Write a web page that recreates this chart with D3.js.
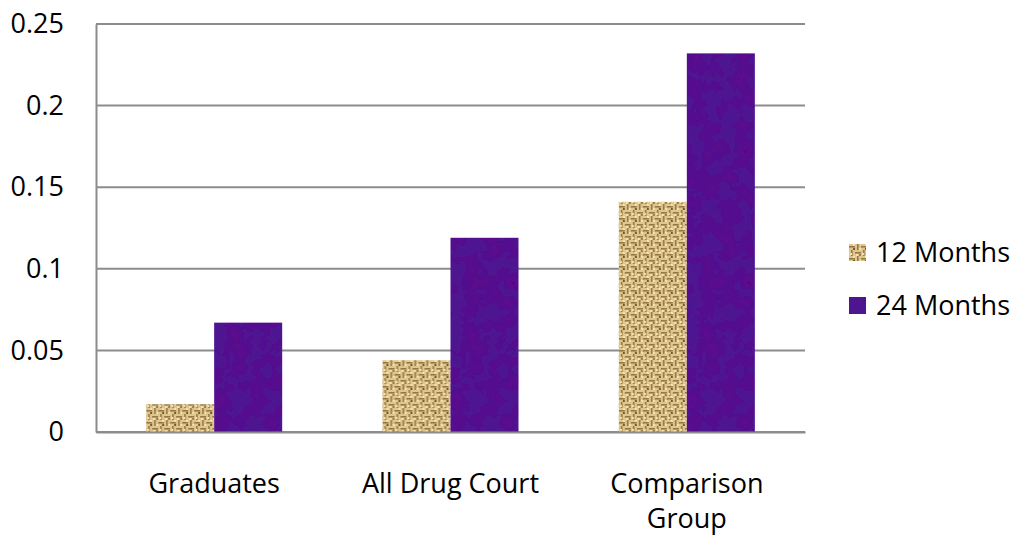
<!DOCTYPE html>
<html>
<head>
<meta charset="utf-8">
<script src="https://cdn.jsdelivr.net/npm/d3@7"></script>
<style>
  body { margin: 0; background: #fff; }
  svg { display: block; font-family: "Open Sans", sans-serif; }
</style>
</head>
<body>
<svg id="chart" width="1018" height="535"></svg>
<script>
// chart data
const categories = ["Graduates", "All Drug Court", "Comparison Group"];
const seriesNames = ["12 Months", "24 Months"];
const months12 = [0.017, 0.044, 0.141];
const months24 = [0.067, 0.119, 0.232];
const yTicks = [0, 0.05, 0.1, 0.15, 0.2, 0.25];
const yTickLabels = ["0", "0.05", "0.1", "0.15", "0.2", "0.25"];

const seriesValues = [months12, months24];
const rows = categories.map((c, i) => ({
  category: c,
  values: seriesNames.map((s, j) => ({ series: s, value: seriesValues[j][i] }))
}));

const margin = { top: 24, right: 213, bottom: 103, left: 96 },
      width = 1018 - margin.left - margin.right,
      height = 535 - margin.top - margin.bottom;

const svg = d3.select("#chart");
const defs = svg.append("defs");

// burlap weave for the 12 month bars
const burlap = defs.append("pattern")
  .attr("id", "burlap")
  .attr("patternUnits", "userSpaceOnUse")
  .attr("width", 12).attr("height", 12);
burlap.append("rect").attr("width", 12).attr("height", 12).attr("fill", "#dfc68c");
const weaveDark = "#8a6a3a";
[[0, 2, 6, 1.6], [6, 8, 6, 1.6]].forEach(([x, y, w, h]) =>
  burlap.append("rect").attr("x", x).attr("y", y).attr("width", w).attr("height", h).attr("fill", weaveDark).attr("opacity", 0.85));
[[8, 0, 1.6, 6], [2, 6, 1.6, 6]].forEach(([x, y, w, h]) =>
  burlap.append("rect").attr("x", x).attr("y", y).attr("width", w).attr("height", h).attr("fill", weaveDark).attr("opacity", 0.85));
[[1, 9], [10, 4], [4, 0], [7, 10]].forEach(([x, y]) =>
  burlap.append("rect").attr("x", x).attr("y", y).attr("width", 2).attr("height", 2).attr("fill", "#f3e2b2"));
burlap.append("rect").attr("x", 4).attr("y", 4).attr("width", 2).attr("height", 2).attr("fill", "#4e3619").attr("opacity", 0.75);
burlap.append("rect").attr("x", 10).attr("y", 10).attr("width", 2).attr("height", 2).attr("fill", "#4e3619").attr("opacity", 0.5);

// mottled purple for the 24 month bars
const mottle = defs.append("filter")
  .attr("id", "mottle")
  .attr("x", 0).attr("y", 0).attr("width", 1).attr("height", 1);
mottle.append("feTurbulence")
  .attr("type", "fractalNoise")
  .attr("baseFrequency", 0.06)
  .attr("numOctaves", 3)
  .attr("seed", 4)
  .attr("result", "noise");
mottle.append("feColorMatrix")
  .attr("in", "noise")
  .attr("type", "matrix")
  .attr("values", "0 0 0 0 0.12  0 0 0 0 0.0  0 0 0 0 0.25  0 0 0 1.6 -0.6")
  .attr("result", "dark");
mottle.append("feComposite")
  .attr("in", "dark").attr("in2", "SourceGraphic").attr("operator", "atop");

const fills = { "12 Months": "url(#burlap)", "24 Months": "#4d1490" };

const g = svg.append("g")
  .attr("transform", `translate(${margin.left},${margin.top})`);

const x0 = d3.scaleBand()
  .domain(categories)
  .range([0, width])
  .paddingInner(0.4245)
  .paddingOuter(0.21225);

const x1 = d3.scaleBand()
  .domain(seriesNames)
  .range([0, x0.bandwidth()]);

const y = d3.scaleLinear()
  .domain([0, 0.25])
  .range([height, 0]);

// gridlines
g.append("g")
  .selectAll("line")
  .data(yTicks)
  .join("line")
  .attr("x1", 0).attr("x2", width)
  .attr("y1", d => y(d)).attr("y2", d => y(d))
  .attr("stroke", "#8c8c8c")
  .attr("stroke-width", 2);

// y axis
const yAxis = g.append("g")
  .call(d3.axisLeft(y).tickValues(yTicks).tickSize(0).tickPadding(32)
    .tickFormat((d, i) => yTickLabels[i]));
yAxis.select(".domain").attr("stroke", "#8c8c8c").attr("stroke-width", 2);
yAxis.selectAll("text")
  .attr("font-size", 27)
  .attr("font-family", "Open Sans, sans-serif")
  .attr("fill", "#000");

// bars
const groups = g.append("g")
  .selectAll("g")
  .data(rows)
  .join("g")
  .attr("transform", d => `translate(${x0(d.category)},0)`);

groups.selectAll("rect")
  .data(d => d.values)
  .join("rect")
  .attr("x", d => x1(d.series))
  .attr("y", d => y(d.value))
  .attr("width", x1.bandwidth())
  .attr("height", d => y(0) - y(d.value))
  .attr("fill", d => fills[d.series])
  .attr("filter", d => d.series === "24 Months" ? "url(#mottle)" : null);

// x axis
const xAxis = g.append("g")
  .attr("transform", `translate(0,${height})`)
  .call(d3.axisBottom(x0).tickSize(0).tickFormat(""));
xAxis.select(".domain").attr("stroke", "#8c8c8c").attr("stroke-width", 2);

const labelWords = { "Comparison Group": ["Comparison", "Group"] };
xAxis.selectAll(".tick")
  .append("text")
  .attr("text-anchor", "middle")
  .attr("font-size", 27)
  .attr("font-family", "Open Sans, sans-serif")
  .attr("fill", "#000")
  .selectAll("tspan")
  .data(d => labelWords[d] || [d])
  .join("tspan")
  .attr("x", 0)
  .attr("y", (d, i) => 61 + i * 35)
  .text(d => d);

// legend
const legend = svg.append("g")
  .attr("transform", "translate(849,244)");
const item = legend.selectAll("g")
  .data(seriesNames)
  .join("g")
  .attr("transform", (d, i) => `translate(0,${i * 53})`);
item.append("rect")
  .attr("width", 17).attr("height", 17)
  .attr("fill", d => fills[d])
  .attr("filter", d => d === "24 Months" ? "url(#mottle)" : null);
item.append("text")
  .attr("x", 27).attr("y", 18)
  .attr("font-size", 27)
  .attr("fill", "#000")
  .text(d => d);
</script>
</body>
</html>
